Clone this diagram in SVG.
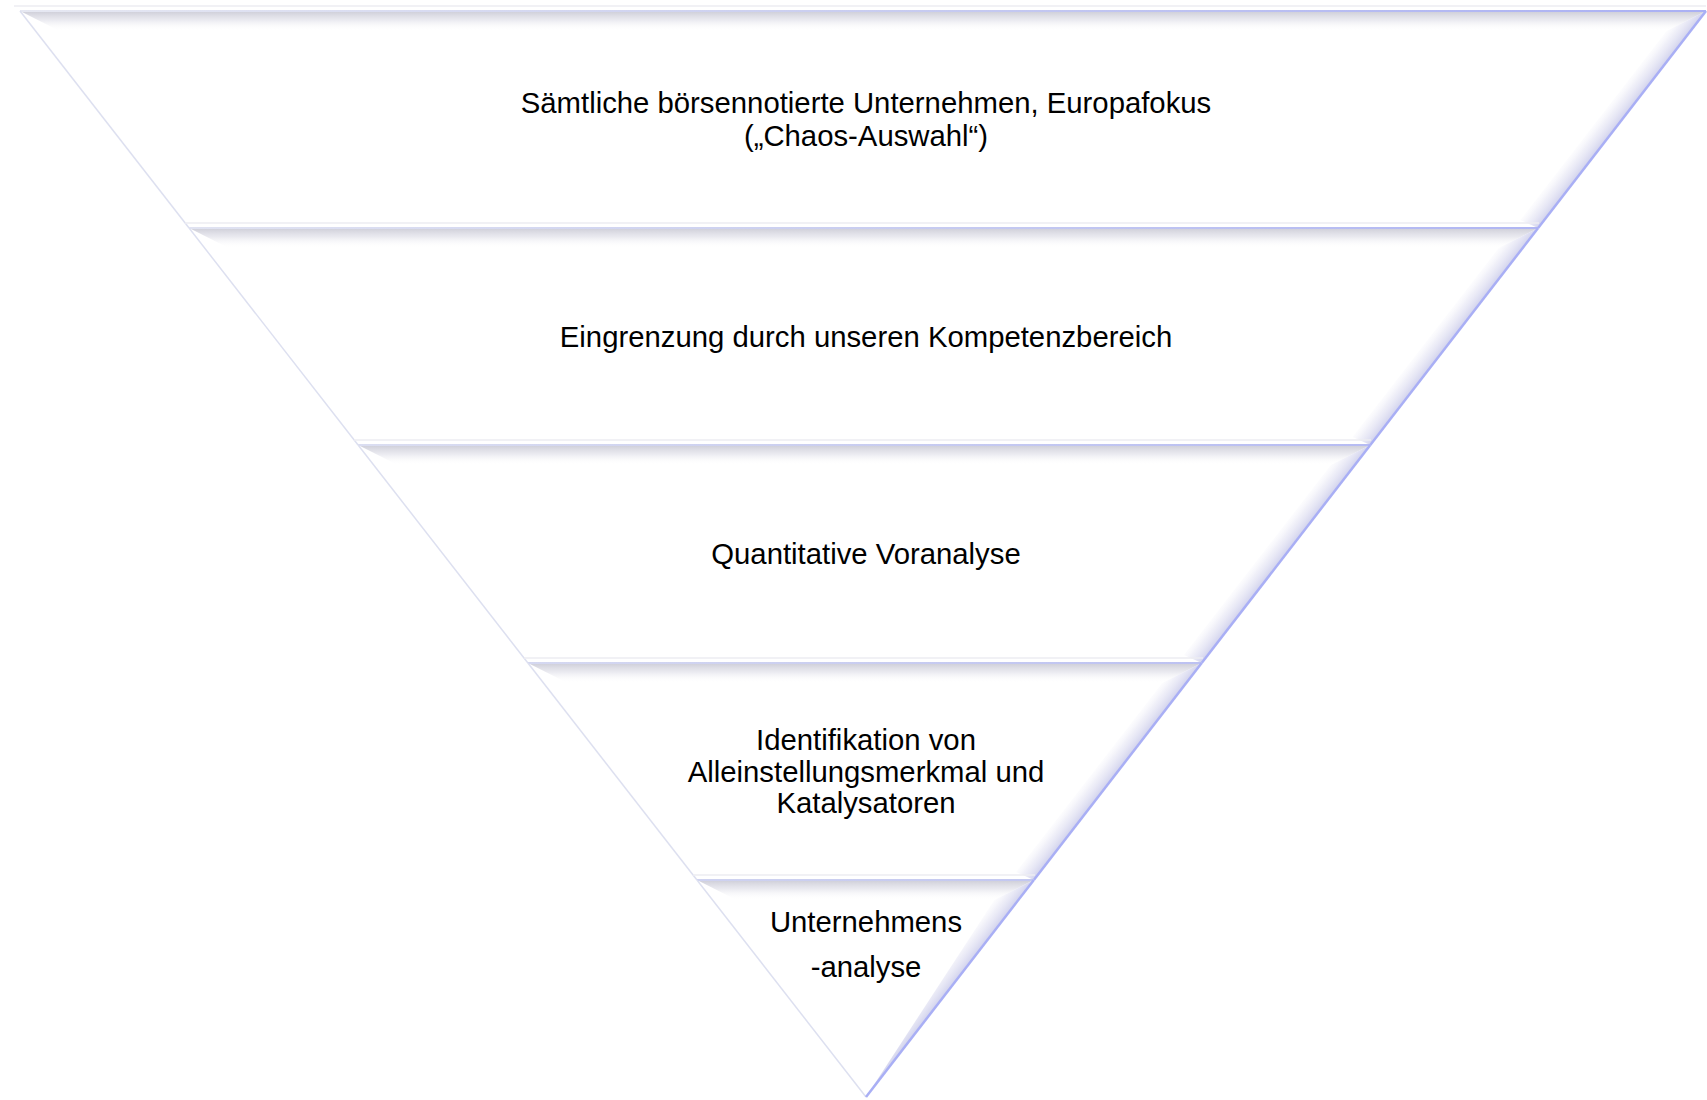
<svg xmlns="http://www.w3.org/2000/svg" width="1707" height="1100" viewBox="0 0 1707 1100">
<defs>
<linearGradient id="topBevel" x1="0" y1="0" x2="0" y2="1">
<stop offset="0" stop-color="#c4c4d0" stop-opacity="0.85"/>
<stop offset="0.45" stop-color="#dcdce6" stop-opacity="0.6"/>
<stop offset="1" stop-color="#ffffff" stop-opacity="0"/>
</linearGradient>
<linearGradient id="rightBevel" gradientUnits="userSpaceOnUse" x1="1706" y1="11" x2="1687" y2="-3.7">
<stop offset="0" stop-color="#cfd0ec" stop-opacity="0.95"/>
<stop offset="0.5" stop-color="#e6e6f4" stop-opacity="0.6"/>
<stop offset="1" stop-color="#ffffff" stop-opacity="0"/>
</linearGradient>
<linearGradient id="topLine" gradientUnits="userSpaceOnUse" x1="20" y1="0" x2="1706" y2="0">
<stop offset="0" stop-color="#e6e8f2"/>
<stop offset="0.45" stop-color="#ccd0f0"/>
<stop offset="1" stop-color="#aab0f4"/>
</linearGradient>
<style>
.band{fill:#ffffff;stroke:none}
.tb{fill:url(#topBevel)}
.rb{fill:url(#rightBevel)}
.tl{stroke:url(#topLine);stroke-width:2;fill:none}
.ghost{stroke:#ececf2;stroke-width:1.5;fill:none}
.le{stroke:#dde0f0;stroke-width:1.5;fill:none}
.re{stroke:#a9aff5;stroke-width:2.5;fill:none}
.lbl{font-family:"Liberation Sans",Arial,sans-serif;font-size:29.3px;fill:#000;text-anchor:middle}
</style>
</defs>
<rect width="1707" height="1100" fill="#ffffff"/>

<g id="band1">
<polygon class="band" points="20,11 1706,11 1538.15,228 189.05,228"/>
<polygon class="tb" points="20,11 1706,11 1666.53,31 59.58,31"/>
<polygon class="rb" points="1706,11 1538.15,228 1520.34,220 1666.53,31"/>
<line class="ghost" x1="14" y1="6" x2="1706" y2="6"/>
<line class="tl" x1="20" y1="11" x2="1706" y2="11"/>
<line class="le" x1="20" y1="11" x2="189.05" y2="228"/>
<line class="re" x1="1706" y1="11" x2="1538.15" y2="228"/>
<text class="lbl" x="866" y="113">Sämtliche börsennotierte Unternehmen, Europafokus</text>
<text class="lbl" x="866" y="146">(„Chaos-Auswahl“)</text>
</g>

<g id="band2">
<polygon class="band" points="189.05,228 1538.15,228 1370.31,445 358.09,445"/>
<polygon class="tb" points="189.05,228 1538.15,228 1498.68,248 228.63,248"/>
<polygon class="rb" points="1538.15,228 1370.31,445 1352.5,437 1498.68,248"/>
<line class="ghost" x1="185" y1="223" x2="1539" y2="223"/>
<line class="tl" x1="189.05" y1="228" x2="1538.15" y2="228"/>
<line class="le" x1="189.05" y1="228" x2="358.09" y2="445"/>
<line class="re" x1="1538.15" y1="228" x2="1370.31" y2="445"/>
<text class="lbl" x="866" y="347">Eingrenzung durch unseren Kompetenzbereich</text>
</g>

<g id="band3">
<polygon class="band" points="358.09,445 1370.31,445 1201.69,663 527.91,663"/>
<polygon class="tb" points="358.09,445 1370.31,445 1330.84,465 397.67,465"/>
<polygon class="rb" points="1370.31,445 1201.69,663 1183.88,655 1330.84,465"/>
<line class="ghost" x1="354" y1="440" x2="1371" y2="440"/>
<line class="tl" x1="358.09" y1="445" x2="1370.31" y2="445"/>
<line class="le" x1="358.09" y1="445" x2="527.91" y2="663"/>
<line class="re" x1="1370.31" y1="445" x2="1201.69" y2="663"/>
<text class="lbl" x="866" y="564">Quantitative Voranalyse</text>
</g>

<g id="band4">
<polygon class="band" points="527.91,663 1201.69,663 1033.85,880 696.96,880"/>
<polygon class="tb" points="527.91,663 1201.69,663 1162.22,683 567.49,683"/>
<polygon class="rb" points="1201.69,663 1033.85,880 1016.04,872 1162.22,683"/>
<line class="ghost" x1="524" y1="658" x2="1203" y2="658"/>
<line class="tl" x1="527.91" y1="663" x2="1201.69" y2="663"/>
<line class="le" x1="527.91" y1="663" x2="696.96" y2="880"/>
<line class="re" x1="1201.69" y1="663" x2="1033.85" y2="880"/>
<text class="lbl" x="866" y="750">Identifikation von</text>
<text class="lbl" x="866" y="782">Alleinstellungsmerkmal und</text>
<text class="lbl" x="866" y="813">Katalysatoren</text>
</g>

<g id="band5">
<polygon class="band" points="696.96,880 1033.85,880 866,1097"/>
<polygon class="tb" points="696.96,880 1033.85,880 994.38,900 736.54,900"/>
<polygon class="rb" points="1033.85,880 866,1097 994.38,900"/>
<line class="ghost" x1="693" y1="875" x2="1035" y2="875"/>
<line class="tl" x1="696.96" y1="880" x2="1033.85" y2="880"/>
<line class="le" x1="696.96" y1="880" x2="866" y2="1097"/>
<line class="re" x1="1033.85" y1="880" x2="866" y2="1097"/>
<text class="lbl" x="866" y="932">Unternehmens</text>
<text class="lbl" x="866" y="977">-analyse</text>
</g>
</svg>
